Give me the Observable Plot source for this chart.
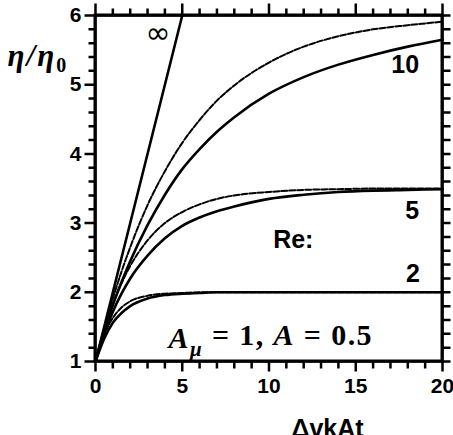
<!DOCTYPE html>
<html>
<head>
<meta charset="utf-8">
<script src="https://cdn.jsdelivr.net/npm/d3@7"></script>
<script src="https://cdn.jsdelivr.net/npm/@observablehq/plot@0.6"></script>
<style>
  html, body { margin: 0; padding: 0; background: #fff; }
  #chart { width: 453px; height: 435px; }
</style>
</head>
<body>
<div id="chart"></div>
<script>
// ---- data ----
const xGrid      = [0, 0.5, 1, 1.5, 2, 3, 4, 5, 6, 7, 8, 10, 12, 14, 16, 18, 20];
const re2Solid   = [1, 1.33, 1.56, 1.70, 1.80, 1.91, 1.96, 1.98, 1.99, 2.0, 2.0, 2.0, 2.0, 2.0, 2.0, 2.0, 2.0];
const re2Dashed  = [1, 1.39, 1.63, 1.78, 1.87, 1.95, 1.98, 1.99, 2.0, 2.0, 2.0, 2.0, 2.0, 2.0, 2.0, 2.0, 2.0];
const re5Solid   = [1, 1.40, 1.72, 1.98, 2.20, 2.53, 2.78, 2.96, 3.08, 3.17, 3.24, 3.35, 3.41, 3.45, 3.47, 3.48, 3.49];
const re5Dashed  = [1, 1.45, 1.82, 2.13, 2.38, 2.75, 3.00, 3.16, 3.27, 3.35, 3.40, 3.45, 3.48, 3.49, 3.50, 3.50, 3.50];
const re10Solid  = [1, 1.44, 1.82, 2.15, 2.45, 2.97, 3.41, 3.78, 4.07, 4.32, 4.53, 4.87, 5.11, 5.29, 5.43, 5.55, 5.65];
const re10Dashed = [1, 1.48, 1.91, 2.30, 2.65, 3.26, 3.75, 4.16, 4.49, 4.77, 4.99, 5.32, 5.55, 5.70, 5.80, 5.86, 5.91];
const infX = [0, 5];
const infY = [1, 6];

const yMajor = [1, 2, 3, 4, 5, 6];
const yMinor = [1.2, 1.4, 1.6, 1.8, 2.2, 2.4, 2.6, 2.8, 3.2, 3.4, 3.6, 3.8, 4.2, 4.4, 4.6, 4.8, 5.2, 5.4, 5.6, 5.8];
const xMajor = [0, 5, 10, 15, 20];
const xMinor = [1, 2, 3, 4, 6, 7, 8, 9, 11, 12, 13, 14, 16, 17, 18, 19];

const labelText = ["∞", "10", "5", "Re:", "2"];
const labelX    = [3.6, 17.85, 18.25, 11.4, 18.3];
const labelY    = [5.74, 5.28, 3.18, 2.75, 2.27];
const noteText  = "Aμ = 1, A = 0.5";
const noteX = 10.1, noteY = 1.33;
const yTitle = "η/η0";
const xTitle = "ΔvkAt";

// ---- layout: the whole SVG is the plotting area; the axes box is drawn as a mark ----
const W = 453, H = 435, mL = 95, mR = 11, mT = 15, mB = 74;
const fx = [0, 20], fy = [1, 6];                      // axes box extents (data)
const pxX = (fx[1] - fx[0]) / (W - mL - mR);          // data units per pixel
const pxY = (fy[1] - fy[0]) / (H - mT - mB);
const xDom = [fx[0] - mL * pxX, fx[1] + mR * pxX];
const yDom = [fy[0] - mB * pxY, fy[1] + mT * pxY];

// ---- build tables ----
function rows(ys, key) { return xGrid.map((x, i) => ({x, y: ys[i], key})); }
const solidRows  = [...rows(re2Solid, "2"), ...rows(re5Solid, "5"), ...rows(re10Solid, "10"),
                    ...infX.map((x, i) => ({x, y: infY[i], key: "inf"}))];
const dashedRows = [...rows(re2Dashed, "2"), ...rows(re5Dashed, "5"), ...rows(re10Dashed, "10")];
const labels = labelText.map((t, i) => ({t, x: labelX[i], y: labelY[i]}));

// tick marks: one zig-zag path per side (the runs along the box edge are hidden under the box stroke)
const withLen = (major, minor, lMaj, lMin) =>
  [...major.map(v => ({v, len: lMaj})), ...minor.map(v => ({v, len: lMin}))].sort((a, b) => a.v - b.v);
const tickPts = [
  ...withLen(yMajor, yMinor, 11, 7).flatMap(({v, len}) => [
      {side: "L", x: fx[0], y: v}, {side: "L", x: fx[0] - len * pxX, y: v}, {side: "L", x: fx[0], y: v}]),
  ...withLen(yMajor, yMinor, 8, 8).flatMap(({v, len}) => [
      {side: "R", x: fx[1], y: v}, {side: "R", x: fx[1] + len * pxX, y: v}, {side: "R", x: fx[1], y: v}]),
  ...withLen(xMajor, xMinor, 10, 7).flatMap(({v, len}) => [
      {side: "B", x: v, y: fy[0]}, {side: "B", x: v, y: fy[0] - len * pxY}, {side: "B", x: v, y: fy[0]}]),
  ...withLen(xMajor, xMinor, 12, 7).flatMap(({v, len}) => [
      {side: "T", x: v, y: fy[1]}, {side: "T", x: v, y: fy[1] + len * pxY}, {side: "T", x: v, y: fy[1]}])
];

const serif = "'Liberation Serif', 'DejaVu Serif', serif";
const chart = Plot.plot({
  width: W, height: H, margin: 0,
  x: {domain: xDom, axis: null},
  y: {domain: yDom, axis: null},
  style: {fontFamily: "'Liberation Sans', Arial, sans-serif", fontWeight: "bold", fontSize: "21px", background: "#fff", color: "#000"},
  marks: [
    Plot.line(solidRows, {x: "x", y: "y", z: "key", stroke: "#000", strokeWidth: 2.6, curve: "monotone-x"}),
    Plot.line(dashedRows, {x: "x", y: "y", z: "key", stroke: "#000", strokeWidth: 2, strokeDasharray: "6,2", curve: "monotone-x"}),
    Plot.line(tickPts, {x: "x", y: "y", z: "side", stroke: "#000", strokeWidth: 2.5, strokeLinecap: "butt", strokeLinejoin: "bevel"}),
    Plot.rect([{x1: fx[0], x2: fx[1], y1: fy[0], y2: fy[1]}], {x1: "x1", x2: "x2", y1: "y1", y2: "y2", fill: "none", stroke: "#000", strokeWidth: 3}),
    // tick labels
    Plot.text(yMajor, {x: () => fx[0], y: d => d, text: d => String(d), textAnchor: "end", dx: -14, fontSize: 21}),
    Plot.text(xMajor, {x: d => d, y: () => fy[0], text: d => String(d), lineAnchor: "top", dy: 17, fontSize: 21}),
    // in-plot labels
    Plot.text(labels.filter(d => d.t === "∞"), {x: "x", y: "y", text: "t", fontSize: 30, fontWeight: "normal", fontFamily: "'DejaVu Sans', sans-serif"}),
    Plot.text(labels.filter(d => d.t !== "∞"), {x: "x", y: "y", text: "t", fontSize: 25, fontWeight: "bold"}),
    Plot.text([noteText], {x: () => noteX, y: () => noteY, text: d => d, fontSize: 30, fontFamily: serif, fontWeight: "bold"}),
    // axis titles
    Plot.text([yTitle], {frameAnchor: "top-left", textAnchor: "start", dx: 7, dy: 43, text: d => d, fontSize: 31, fontFamily: serif, fontWeight: "bold", fontStyle: "italic"}),
    Plot.text([xTitle], {frameAnchor: "top-left", textAnchor: "middle", dx: 327, dy: 419, text: d => d, fontSize: 25, fontWeight: "bold"})
  ]
});
document.getElementById("chart").appendChild(chart);

// rich text: subscripts and italics
const svg = d3.select(chart);
svg.selectAll("text").filter(function() { return this.textContent === yTitle; }).each(function() {
  const t = d3.select(this); t.text("");
  t.append("tspan").attr("letter-spacing", 2).text("η/η");
  t.append("tspan").attr("font-size", 20).attr("font-style", "normal").attr("dy", "0.3em").text("0");
});
svg.selectAll("text").filter(function() { return this.textContent === noteText; }).each(function() {
  const t = d3.select(this); t.text(""); t.attr("letter-spacing", 1.4);
  t.append("tspan").attr("font-style", "italic").text("A");
  t.append("tspan").attr("font-style", "italic").attr("font-size", 21).attr("dy", "0.35em").text("μ");
  t.append("tspan").attr("dy", "-0.35em").text(" = 1, ");
  t.append("tspan").attr("font-style", "italic").text("A");
  t.append("tspan").text(" = 0.5");
});
</script>
</body>
</html>
